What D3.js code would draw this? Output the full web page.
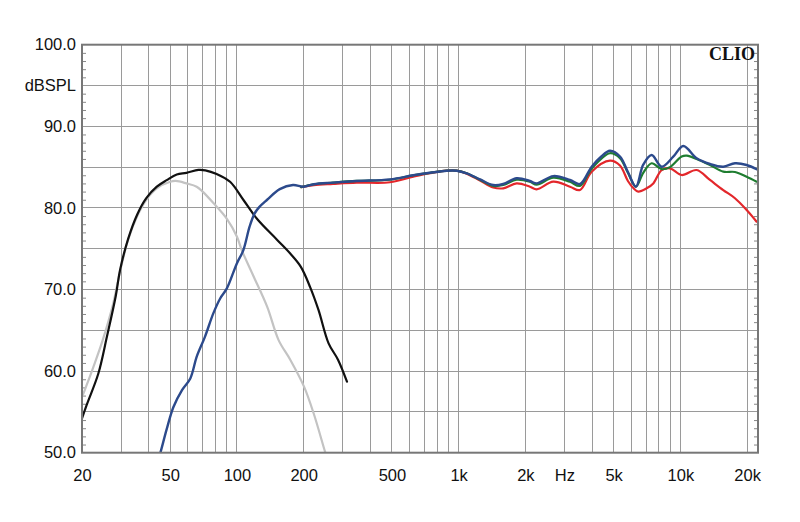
<!DOCTYPE html>
<html><head><meta charset="utf-8">
<script src="https://cdn.jsdelivr.net/npm/d3@7"></script>
<style>
body{margin:0;background:#fff}
</style>
</head><body>
<svg id="c" width="800" height="522"></svg>
<script>
// ---- data ----
const xTickValues = [20, 50, 100, 200, 500, 1000, 2000, 3000, 5000, 10000, 20000];
const xTickLabels = ["20", "50", "100", "200", "500", "1k", "2k", "Hz", "5k", "10k", "20k"];
const yTickValues = [50, 60, 70, 80, 90, 95, 100];
const yTickLabels = ["50.0", "60.0", "70.0", "80.0", "90.0", "dBSPL", "100.0"];

const greyF = [20, 21, 22.5, 24.8, 27.6, 29.7, 32.3, 35.5, 39, 43.5, 50, 53, 59.2, 65.8, 70, 78.3, 89.9, 99.9, 105.2, 118.9, 136.8, 154.1, 173.9, 200.7, 221.9, 249.8, 256];
const greyV = [56.8, 58.3, 60.5, 63.8, 68.2, 72.2, 76.1, 79.0, 81.0, 82.4, 83.2, 83.3, 83.0, 82.6, 82.0, 80.6, 78.7, 76.5, 74.8, 71.6, 67.9, 63.8, 61.4, 58.1, 54.8, 50.1, 49.2];

const blackF = [20, 21, 23.7, 25.9, 28.4, 29.7, 32.3, 35.5, 39, 43.5, 48.2, 53.5, 59.2, 67, 72, 81, 93.1, 106.8, 122.8, 151.5, 173.9, 193.9, 213.8, 233.2, 259, 285.6, 313.5];
const blackV = [54.2, 55.85, 59.7, 64.2, 69.2, 72.4, 76.2, 79.2, 81.2, 82.6, 83.4, 84.1, 84.3, 84.65, 84.6, 84.15, 83.2, 81.0, 78.7, 76.1, 74.4, 72.8, 70.3, 67.5, 63.4, 61.4, 58.7];

const redF = [195, 222, 271, 347, 490, 624, 742, 883, 979, 1087, 1248, 1432, 1589, 1827, 2097, 2248, 2672, 3177, 3525, 3981, 4814, 5341, 5800, 6150, 6457, 7047, 7550, 8236, 8977, 10140, 11846, 13600, 15614, 17636, 19910, 22085];
const redV = [82.55, 82.8, 82.95, 83.1, 83.14, 83.82, 84.25, 84.56, 84.56, 84.2, 83.35, 82.5, 82.4, 83.0, 82.6, 82.28, 83.21, 82.6, 82.19, 84.44, 85.79, 85.2, 83.3, 82.4, 82.0, 82.4, 83.0, 84.64, 84.85, 84.03, 84.64, 83.42, 82.19, 81.18, 79.74, 78.31];

const greenF = [195, 222, 271, 347, 490, 624, 742, 883, 979, 1087, 1248, 1432, 1589, 1827, 2097, 2248, 2672, 3177, 3525, 3981, 4814, 5341, 5800, 6300, 6801, 7423, 8236, 8977, 10140, 10700, 11846, 13600, 15614, 17636, 19910, 22085];
const greenV = [82.55, 82.9, 83.1, 83.3, 83.45, 84.0, 84.3, 84.56, 84.56, 84.24, 83.45, 82.7, 82.8, 83.45, 83.2, 82.85, 83.7, 83.2, 82.7, 84.8, 86.7, 86.1, 84.3, 82.6, 84.3, 85.47, 84.75, 85.0, 86.3, 86.4, 86.0, 85.26, 84.44, 84.4, 83.82, 83.21];

const blueF = [43.5, 44.8, 48.1, 51.7, 56.6, 61.6, 65.9, 71.7, 78.3, 84, 89.9, 99.9, 106.8, 114, 120, 126, 136.8, 156, 179, 200, 222, 271, 347, 490, 624, 742, 883, 979, 1087, 1248, 1432, 1589, 1827, 2097, 2248, 2672, 3177, 3525, 3981, 4400, 4814, 5341, 5800, 6300, 6801, 7423, 8236, 9290, 10310, 11846, 13600, 15614, 17636, 19910, 22085];
const blueV = [48.8, 49.7, 52.8, 55.6, 57.7, 59.1, 61.8, 64.2, 67.1, 68.9, 70.1, 73.2, 74.8, 77.7, 79.3, 80.1, 81.0, 82.3, 82.8, 82.6, 82.9, 83.1, 83.3, 83.5, 84.0, 84.3, 84.56, 84.56, 84.24, 83.5, 82.8, 82.93, 83.63, 83.3, 83.0, 83.9, 83.42, 82.93, 85.05, 86.3, 87.0, 86.3, 84.4, 82.6, 85.3, 86.48, 85.05, 86.27, 87.59, 86.08, 85.38, 85.05, 85.47, 85.26, 84.73];

const series = [
  {f: greyF, v: greyV, color: "#c3c3c3", w: 2.2},
  {f: blackF, v: blackV, color: "#111111", w: 2.2},
  {f: redF, v: redV, color: "#e3272b", w: 2.2},
  {f: greenF, v: greenV, color: "#1f7d30", w: 2.2},
  {f: blueF, v: blueV, color: "#2c4a8c", w: 2.4}
];

// ---- chart ----
const svg = d3.select("#c");
const L = 82, R = 758, T = 44.7, B = 452.7;
const x = d3.scaleLog().domain([20, 22400]).range([L, R]);
const y = d3.scaleLinear().domain([50, 100]).range([B, T]);

svg.append("defs").append("clipPath").attr("id", "clip")
  .append("rect").attr("x", L).attr("y", T).attr("width", R - L).attr("height", B - T);

// grid
const grid = svg.append("g").attr("stroke", "#9a9a9a").attr("stroke-width", 1).attr("shape-rendering", "crispEdges");
grid.selectAll("line.v").data(x.ticks().filter(d => d > 20)).join("line")
  .attr("x1", d => x(d)).attr("x2", d => x(d)).attr("y1", T).attr("y2", B);
grid.selectAll("line.h").data(d3.range(55, 100, 5)).join("line")
  .attr("y1", d => y(d)).attr("y2", d => y(d)).attr("x1", L).attr("x2", R);

// minor ticks on both side edges
const minor = d3.range(51, 100).filter(d => d % 5 !== 0);
const lt = svg.append("g").attr("transform", `translate(${L},0)`)
  .call(d3.axisRight(y).tickValues(minor).tickSize(4).tickFormat(""));
const rt = svg.append("g").attr("transform", `translate(${R},0)`)
  .call(d3.axisLeft(y).tickValues(minor).tickSize(4).tickFormat(""));
[lt, rt].forEach(g => { g.select(".domain").remove(); g.selectAll("line").attr("stroke", "#888"); });

// curves
const line = d3.line().x(d => x(d[0])).y(d => y(d[1])).curve(d3.curveCatmullRom.alpha(0.5));
const cg = svg.append("g").attr("clip-path", "url(#clip)");
series.forEach(s => {
  cg.append("path").datum(s.f.map((f, i) => [f, s.v[i]]))
    .attr("fill", "none").attr("stroke", s.color).attr("stroke-width", s.w)
    .attr("stroke-linejoin", "round").attr("stroke-linecap", "round")
    .attr("d", line);
});

// frame
svg.append("rect").attr("x", L).attr("y", T).attr("width", R - L).attr("height", B - T)
  .attr("fill", "none").attr("stroke", "#777").attr("stroke-width", 2);

// axes labels
const xa = svg.append("g").attr("transform", `translate(0,${B})`)
  .call(d3.axisBottom(x).tickValues(xTickValues).tickSize(0).tickPadding(16.6)
    .tickFormat((d, i) => xTickLabels[i]));
const ya = svg.append("g").attr("transform", `translate(${L},0)`)
  .call(d3.axisLeft(y).tickValues(yTickValues).tickSize(0).tickPadding(6)
    .tickFormat((d, i) => yTickLabels[i]));
[xa, ya].forEach(g => {
  g.select(".domain").remove();
  g.attr("font-family", null).attr("font-size", null);
  g.selectAll("text").style("font-size", "16.5px").attr("fill", "#111")
    .style("font-family", "Arial, 'Liberation Sans', sans-serif");
});

svg.append("text").attr("x", 755).attr("y", 60).attr("text-anchor", "end")
  .style("font-family", "'Liberation Serif', 'DejaVu Serif', serif").style("font-weight", "bold")
  .style("font-size", "18px").attr("fill", "#111").text("CLIO");
</script>
</body></html>
